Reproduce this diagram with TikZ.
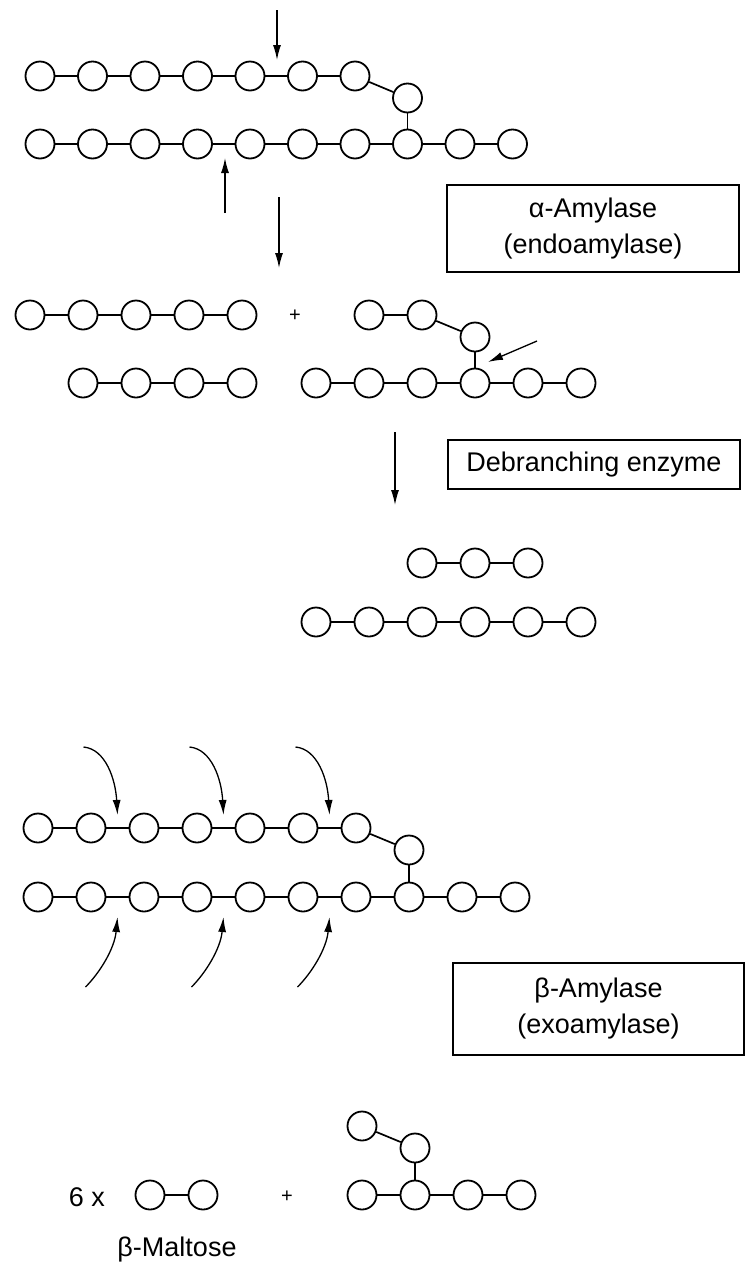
\documentclass[tikz,border=0pt]{standalone}
\usepackage{fontspec}
\setmainfont{Liberation Sans}
\usetikzlibrary{arrows.meta}
\begin{document}
\begin{tikzpicture}[x=1pt,y=-1pt,
  glc/.style={circle,draw,line width=1.8pt,minimum size=29pt,inner sep=0pt},
  bond/.style={line width=1.7pt},
  arr/.style={line width=1.3pt,-{Latex[length=15pt,width=8pt]}},
  lbl/.style={font=\fontsize{27}{30}\selectfont,inner sep=0pt},
  pl/.style={font=\fontsize{20}{24}\selectfont,inner sep=0pt},
  enz/.style={draw,line width=1.3pt,inner sep=0pt,align=center,font=\fontsize{27}{36}\selectfont}]
\useasboundingbox (0,0) rectangle (749,1275);

% ---------- Section 1 ----------
\foreach \i in {1,...,7} \node[glc] (a\i) at ({40+52.5*(\i-1)},76) {};
\node[glc] (ab) at (407.5,98) {};
\foreach \i in {1,...,10} \node[glc] (c\i) at ({40+52.5*(\i-1)},144) {};
\foreach \i [count=\j from 2] in {1,...,6} \draw[bond] (a\i) -- (a\j);
\draw[bond] (a7) -- (ab);
\draw[bond] (ab) -- (c8);
\foreach \i [count=\j from 2] in {1,...,9} \draw[bond] (c\i) -- (c\j);
\coordinate (s1a) at (277,10); \coordinate (s1b) at (277,60);
\draw[arr] (s1a) -- (s1b);
\coordinate (s1c) at (225,213); \coordinate (s1d) at (225,158);
\draw[arr] (s1c) -- (s1d);
\node[enz,minimum width=292pt,minimum height=87pt] (boxA) at (593,228.5) {α-Amylase\\(endoamylase)};
\coordinate (s1e) at (279,197); \coordinate (s1f) at (279,268);
\draw[arr] (s1e) -- (s1f);

% ---------- Section 2 ----------
\foreach \i in {1,...,5} \node[glc] (d\i) at ({30+53*(\i-1)},315) {};
\foreach \i [count=\j from 2] in {1,...,4} \draw[bond] (d\i) -- (d\j);
\foreach \i in {1,...,4} \node[glc] (dd\i) at ({83+53*(\i-1)},383) {};
\foreach \i [count=\j from 2] in {1,...,3} \draw[bond] (dd\i) -- (dd\j);
\node[pl] (plus1) at (295,316) {+};
\node[glc] (f1) at (369,315) {};
\node[glc] (f2) at (422,315) {};
\node[glc] (fb) at (475,337) {};
\foreach \i in {1,...,6} \node[glc] (g\i) at ({316+53*(\i-1)},383) {};
\draw[bond] (f1) -- (f2);
\draw[bond] (f2) -- (fb);
\draw[bond] (fb) -- (g4);
\foreach \i [count=\j from 2] in {1,...,5} \draw[bond] (g\i) -- (g\j);
\coordinate (s2a) at (537,341); \coordinate (s2b) at (488,362);
\draw[arr] (s2a) -- (s2b);

% ---------- Section 3 ----------
\coordinate (s3a) at (395,432); \coordinate (s3b) at (395,505);
\draw[arr] (s3a) -- (s3b);
\node[enz,minimum width=292pt,minimum height=49pt] (boxD) at (594,464.5) {Debranching enzyme};
\foreach \i in {1,...,3} \node[glc] (h\i) at ({422+53*(\i-1)},563) {};
\foreach \i [count=\j from 2] in {1,...,2} \draw[bond] (h\i) -- (h\j);
\foreach \i in {1,...,6} \node[glc] (k\i) at ({316+53*(\i-1)},622) {};
\foreach \i [count=\j from 2] in {1,...,5} \draw[bond] (k\i) -- (k\j);

% ---------- Section 4 ----------
\foreach \i in {1,...,7} \node[glc] (m\i) at ({38+53*(\i-1)},828) {};
\node[glc] (mb) at (409,850) {};
\foreach \i in {1,...,10} \node[glc] (n\i) at ({38+53*(\i-1)},897) {};
\foreach \i [count=\j from 2] in {1,...,6} \draw[bond] (m\i) -- (m\j);
\draw[bond] (m7) -- (mb);
\draw[bond] (mb) -- (n8);
\foreach \i [count=\j from 2] in {1,...,9} \draw[bond] (n\i) -- (n\j);
\foreach \t in {0,1,2} {
  \coordinate (ts\t) at ({83.5+106*\t},747);
  \coordinate (te\t) at ({117.5+106*\t},815);
  \draw[arr] (ts\t) .. controls +(22,2) and +(-2,-36) .. (te\t);
  \coordinate (bs\t) at ({85.5+106*\t},987);
  \coordinate (be\t) at ({117.5+106*\t},917);
  \draw[arr] (bs\t) .. controls +(14,-14) and +(-3,32) .. (be\t);
}
\node[enz,minimum width=291pt,minimum height=92pt] (boxB) at (598.5,1009) {β-Amylase\\(exoamylase)};

% ---------- Section 5 ----------
\node[lbl] (six) at (87,1197) {6 x};
\node[glc] (p1) at (150,1195) {};
\node[glc] (p2) at (203,1195) {};
\draw[bond] (p1) -- (p2);
\node[lbl] (malt) at (177,1250) {β-Maltose};
\node[pl] (plus2) at (287,1197) {+};
\node[glc] (q1) at (362,1126) {};
\node[glc] (q2) at (415,1148) {};
\foreach \i in {1,...,4} \node[glc] (r\i) at ({362+53*(\i-1)},1195) {};
\draw[bond] (q1) -- (q2);
\draw[bond] (q2) -- (r2);
\foreach \i [count=\j from 2] in {1,...,3} \draw[bond] (r\i) -- (r\j);
\end{tikzpicture}
\end{document}
